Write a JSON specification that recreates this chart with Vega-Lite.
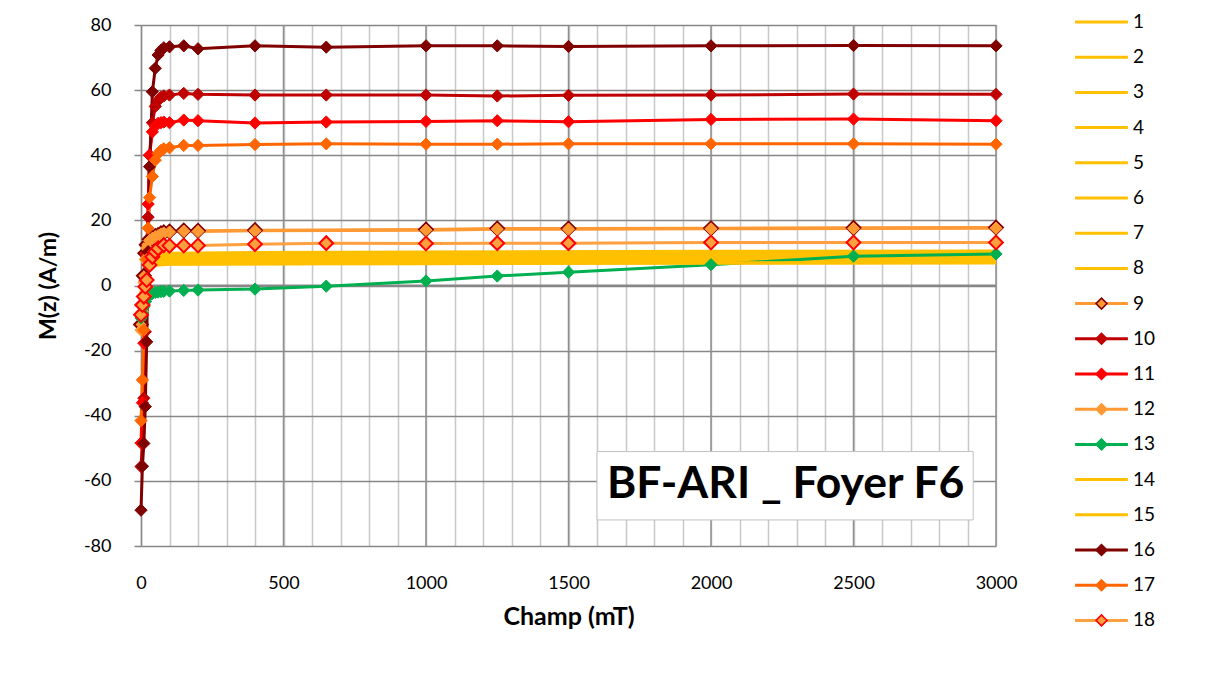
{
  "$schema": "https://vega.github.io/schema/vega-lite/v6.json",
  "width": 855,
  "height": 521,
  "autosize": {"type": "none"},
  "padding": {"left": 141, "top": 25, "right": 216, "bottom": 135},
  "background": "white",
  "config": {
    "view": {"stroke": null},
    "font": "Lato",
    "axis": {"grid": true, "labelOverlap": false, "labelFlush": false, "labelFont": "Lato", "labelFontSize": 18, "labelColor": "#000000",
      "titleFont": "Lato", "titleFontWeight": "bold", "titleColor": "#000000", "gridWidth": 1.5},
    "axisX": {"domain": false, "ticks": false, "labelPadding": 28, "titlePadding": 12, "titleFontSize": 25, "gridColor": "#c8c8c8",
      "values": [0,100,200,300,400,500,600,700,800,900,1000,1100,1200,1300,1400,1500,1600,1700,1800,1900,2000,2100,2200,2300,2400,2500,2600,2700,2800,2900,3000],
      "tickCount": 60, "format": "d", "labelExpr": "datum.value % 500 === 0 ? datum.label : ''"},
    "axisY": {"domain": true, "domainColor": "#878787", "domainWidth": 1.5, "ticks": true, "tickColor": "#878787", "tickSize": 7, "tickWidth": 1.5,
      "labelPadding": 23, "titlePadding": 23, "titleFontSize": 23, "gridColor": "#878787",
      "values": [-80,-60,-40,-20,0,20,40,60,80], "tickCount": 30, "labelExpr": "replace(datum.label, '\u2212', '-')"}
  },
  "data": {"values": [
    {"serie":"1","champ":0,"mz":-3.2},{"serie":"1","champ":10,"mz":1.6},{"serie":"1","champ":20,"mz":5.3},{"serie":"1","champ":30,"mz":7.6},{"serie":"1","champ":40,"mz":8.7},{"serie":"1","champ":50,"mz":9.3},{"serie":"1","champ":60,"mz":9.6},{"serie":"1","champ":80,"mz":9.9},{"serie":"1","champ":100,"mz":9.9},{"serie":"1","champ":200,"mz":10.0},{"serie":"1","champ":400,"mz":10.1},{"serie":"1","champ":1000,"mz":10.3},{"serie":"1","champ":2000,"mz":10.5},{"serie":"1","champ":3000,"mz":10.6},
    {"serie":"2","champ":0,"mz":-3.1},{"serie":"2","champ":10,"mz":1.5},{"serie":"2","champ":20,"mz":5.1},{"serie":"2","champ":30,"mz":7.3},{"serie":"2","champ":40,"mz":8.4},{"serie":"2","champ":50,"mz":9.0},{"serie":"2","champ":60,"mz":9.3},{"serie":"2","champ":80,"mz":9.5},{"serie":"2","champ":100,"mz":9.5},{"serie":"2","champ":200,"mz":9.6},{"serie":"2","champ":400,"mz":9.7},{"serie":"2","champ":1000,"mz":9.9},{"serie":"2","champ":2000,"mz":10.1},{"serie":"2","champ":3000,"mz":10.2},
    {"serie":"3","champ":0,"mz":-2.9},{"serie":"3","champ":10,"mz":1.5},{"serie":"3","champ":20,"mz":4.9},{"serie":"3","champ":30,"mz":7.1},{"serie":"3","champ":40,"mz":8.0},{"serie":"3","champ":50,"mz":8.6},{"serie":"3","champ":60,"mz":8.9},{"serie":"3","champ":80,"mz":9.1},{"serie":"3","champ":100,"mz":9.2},{"serie":"3","champ":200,"mz":9.3},{"serie":"3","champ":400,"mz":9.3},{"serie":"3","champ":1000,"mz":9.5},{"serie":"3","champ":2000,"mz":9.7},{"serie":"3","champ":3000,"mz":9.8},
    {"serie":"4","champ":0,"mz":-2.8},{"serie":"4","champ":10,"mz":1.4},{"serie":"4","champ":20,"mz":4.7},{"serie":"4","champ":30,"mz":6.7},{"serie":"4","champ":40,"mz":7.6},{"serie":"4","champ":50,"mz":8.2},{"serie":"4","champ":60,"mz":8.5},{"serie":"4","champ":80,"mz":8.6},{"serie":"4","champ":100,"mz":8.7},{"serie":"4","champ":200,"mz":8.8},{"serie":"4","champ":400,"mz":8.8},{"serie":"4","champ":1000,"mz":9.0},{"serie":"4","champ":2000,"mz":9.2},{"serie":"4","champ":3000,"mz":9.3},
    {"serie":"5","champ":0,"mz":-2.6},{"serie":"5","champ":10,"mz":1.3},{"serie":"5","champ":20,"mz":4.4},{"serie":"5","champ":30,"mz":6.3},{"serie":"5","champ":40,"mz":7.2},{"serie":"5","champ":50,"mz":7.7},{"serie":"5","champ":60,"mz":8.0},{"serie":"5","champ":80,"mz":8.2},{"serie":"5","champ":100,"mz":8.2},{"serie":"5","champ":200,"mz":8.3},{"serie":"5","champ":400,"mz":8.4},{"serie":"5","champ":1000,"mz":8.5},{"serie":"5","champ":2000,"mz":8.7},{"serie":"5","champ":3000,"mz":8.8},
    {"serie":"6","champ":0,"mz":-2.5},{"serie":"6","champ":10,"mz":1.2},{"serie":"6","champ":20,"mz":4.2},{"serie":"6","champ":30,"mz":6.0},{"serie":"6","champ":40,"mz":6.8},{"serie":"6","champ":50,"mz":7.3},{"serie":"6","champ":60,"mz":7.6},{"serie":"6","champ":80,"mz":7.7},{"serie":"6","champ":100,"mz":7.8},{"serie":"6","champ":200,"mz":7.8},{"serie":"6","champ":400,"mz":7.9},{"serie":"6","champ":1000,"mz":8.1},{"serie":"6","champ":2000,"mz":8.2},{"serie":"6","champ":3000,"mz":8.3},
    {"serie":"7","champ":0,"mz":-2.4},{"serie":"7","champ":10,"mz":1.2},{"serie":"7","champ":20,"mz":4.0},{"serie":"7","champ":30,"mz":5.7},{"serie":"7","champ":40,"mz":6.5},{"serie":"7","champ":50,"mz":7.0},{"serie":"7","champ":60,"mz":7.2},{"serie":"7","champ":80,"mz":7.3},{"serie":"7","champ":100,"mz":7.4},{"serie":"7","champ":200,"mz":7.5},{"serie":"7","champ":400,"mz":7.5},{"serie":"7","champ":1000,"mz":7.7},{"serie":"7","champ":2000,"mz":7.8},{"serie":"7","champ":3000,"mz":7.9},
    {"serie":"8","champ":0,"mz":-2.3},{"serie":"8","champ":10,"mz":1.1},{"serie":"8","champ":20,"mz":3.8},{"serie":"8","champ":30,"mz":5.4},{"serie":"8","champ":40,"mz":6.2},{"serie":"8","champ":50,"mz":6.6},{"serie":"8","champ":60,"mz":6.8},{"serie":"8","champ":80,"mz":7.0},{"serie":"8","champ":100,"mz":7.0},{"serie":"8","champ":200,"mz":7.1},{"serie":"8","champ":400,"mz":7.1},{"serie":"8","champ":1000,"mz":7.3},{"serie":"8","champ":2000,"mz":7.4},{"serie":"8","champ":3000,"mz":7.5},
    {"serie":"9","champ":0,"mz":-12},{"serie":"9","champ":5,"mz":-6},{"serie":"9","champ":10,"mz":3},{"serie":"9","champ":15,"mz":9.9},{"serie":"9","champ":20,"mz":12.5},{"serie":"9","champ":30,"mz":14.2},{"serie":"9","champ":40,"mz":14.8},{"serie":"9","champ":50,"mz":15.2},{"serie":"9","champ":60,"mz":15.5},{"serie":"9","champ":70,"mz":16},{"serie":"9","champ":80,"mz":16.3},{"serie":"9","champ":100,"mz":16.6},{"serie":"9","champ":150,"mz":16.9},{"serie":"9","champ":200,"mz":16.8},{"serie":"9","champ":400,"mz":17},{"serie":"9","champ":1000,"mz":17.2},{"serie":"9","champ":1250,"mz":17.5},{"serie":"9","champ":1500,"mz":17.5},{"serie":"9","champ":2000,"mz":17.6},{"serie":"9","champ":2500,"mz":17.7},{"serie":"9","champ":3000,"mz":17.8},
    {"serie":"10","champ":0,"mz":-55.6},{"serie":"10","champ":5,"mz":-48.4},{"serie":"10","champ":10,"mz":-34.6},{"serie":"10","champ":15,"mz":-14.2},{"serie":"10","champ":20,"mz":9.9},{"serie":"10","champ":25,"mz":21},{"serie":"10","champ":30,"mz":40},{"serie":"10","champ":40,"mz":50},{"serie":"10","champ":50,"mz":55},{"serie":"10","champ":60,"mz":56.8},{"serie":"10","champ":70,"mz":57.8},{"serie":"10","champ":80,"mz":58.2},{"serie":"10","champ":100,"mz":58.5},{"serie":"10","champ":150,"mz":59},{"serie":"10","champ":200,"mz":58.7},{"serie":"10","champ":400,"mz":58.5},{"serie":"10","champ":650,"mz":58.5},{"serie":"10","champ":1000,"mz":58.5},{"serie":"10","champ":1250,"mz":58.2},{"serie":"10","champ":1500,"mz":58.4},{"serie":"10","champ":2000,"mz":58.5},{"serie":"10","champ":2500,"mz":58.8},{"serie":"10","champ":3000,"mz":58.7},
    {"serie":"11","champ":0,"mz":-48.4},{"serie":"11","champ":5,"mz":-36},{"serie":"11","champ":10,"mz":-17.7},{"serie":"11","champ":15,"mz":-5},{"serie":"11","champ":20,"mz":9},{"serie":"11","champ":25,"mz":25},{"serie":"11","champ":30,"mz":40},{"serie":"11","champ":40,"mz":47.2},{"serie":"11","champ":50,"mz":49},{"serie":"11","champ":60,"mz":49.8},{"serie":"11","champ":70,"mz":50},{"serie":"11","champ":80,"mz":50.2},{"serie":"11","champ":100,"mz":50},{"serie":"11","champ":150,"mz":50.8},{"serie":"11","champ":200,"mz":50.6},{"serie":"11","champ":400,"mz":49.9},{"serie":"11","champ":650,"mz":50.2},{"serie":"11","champ":1000,"mz":50.4},{"serie":"11","champ":1250,"mz":50.6},{"serie":"11","champ":1500,"mz":50.3},{"serie":"11","champ":2000,"mz":51},{"serie":"11","champ":2500,"mz":51.1},{"serie":"11","champ":3000,"mz":50.6},
    {"serie":"12","champ":0,"mz":-13.7},{"serie":"12","champ":5,"mz":-8},{"serie":"12","champ":10,"mz":1},{"serie":"12","champ":15,"mz":8},{"serie":"12","champ":20,"mz":11.5},{"serie":"12","champ":30,"mz":13.8},{"serie":"12","champ":40,"mz":14.5},{"serie":"12","champ":50,"mz":15},{"serie":"12","champ":60,"mz":15.3},{"serie":"12","champ":70,"mz":15.8},{"serie":"12","champ":80,"mz":16.1},{"serie":"12","champ":100,"mz":16.4},{"serie":"12","champ":150,"mz":16.7},{"serie":"12","champ":200,"mz":16.6},{"serie":"12","champ":400,"mz":16.8},{"serie":"12","champ":1000,"mz":17},{"serie":"12","champ":1250,"mz":17.3},{"serie":"12","champ":1500,"mz":17.3},{"serie":"12","champ":2000,"mz":17.4},{"serie":"12","champ":2500,"mz":17.5},{"serie":"12","champ":3000,"mz":17.6},
    {"serie":"13","champ":0,"mz":-10},{"serie":"13","champ":5,"mz":-8.5},{"serie":"13","champ":10,"mz":-6.5},{"serie":"13","champ":15,"mz":-5},{"serie":"13","champ":20,"mz":-4},{"serie":"13","champ":30,"mz":-3},{"serie":"13","champ":40,"mz":-2.4},{"serie":"13","champ":50,"mz":-2.1},{"serie":"13","champ":60,"mz":-2},{"serie":"13","champ":70,"mz":-1.9},{"serie":"13","champ":80,"mz":-1.8},{"serie":"13","champ":100,"mz":-1.7},{"serie":"13","champ":150,"mz":-1.5},{"serie":"13","champ":200,"mz":-1.4},{"serie":"13","champ":400,"mz":-1.1},{"serie":"13","champ":650,"mz":-0.2},{"serie":"13","champ":1000,"mz":1.4},{"serie":"13","champ":1250,"mz":2.9},{"serie":"13","champ":1500,"mz":4.1},{"serie":"13","champ":2000,"mz":6.4},{"serie":"13","champ":2500,"mz":9},{"serie":"13","champ":3000,"mz":9.7},
    {"serie":"14","champ":0,"mz":-2.1},{"serie":"14","champ":10,"mz":1.1},{"serie":"14","champ":20,"mz":3.6},{"serie":"14","champ":30,"mz":5.1},{"serie":"14","champ":40,"mz":5.8},{"serie":"14","champ":50,"mz":6.2},{"serie":"14","champ":60,"mz":6.5},{"serie":"14","champ":80,"mz":6.6},{"serie":"14","champ":100,"mz":6.6},{"serie":"14","champ":200,"mz":6.7},{"serie":"14","champ":400,"mz":6.7},{"serie":"14","champ":1000,"mz":6.9},{"serie":"14","champ":2000,"mz":7.0},{"serie":"14","champ":3000,"mz":7.1},
    {"serie":"15","champ":0,"mz":-2.1},{"serie":"15","champ":10,"mz":1.0},{"serie":"15","champ":20,"mz":3.5},{"serie":"15","champ":30,"mz":5.0},{"serie":"15","champ":40,"mz":5.7},{"serie":"15","champ":50,"mz":6.1},{"serie":"15","champ":60,"mz":6.3},{"serie":"15","champ":80,"mz":6.4},{"serie":"15","champ":100,"mz":6.5},{"serie":"15","champ":200,"mz":6.5},{"serie":"15","champ":400,"mz":6.6},{"serie":"15","champ":1000,"mz":6.7},{"serie":"15","champ":2000,"mz":6.8},{"serie":"15","champ":3000,"mz":6.9},
    {"serie":"16","champ":0,"mz":-69},{"serie":"16","champ":5,"mz":-55.5},{"serie":"16","champ":10,"mz":-48.5},{"serie":"16","champ":15,"mz":-37.2},{"serie":"16","champ":20,"mz":-17.3},{"serie":"16","champ":25,"mz":10.4},{"serie":"16","champ":30,"mz":36.5},{"serie":"16","champ":40,"mz":59.5},{"serie":"16","champ":50,"mz":66.7},{"serie":"16","champ":60,"mz":70.8},{"serie":"16","champ":70,"mz":72.2},{"serie":"16","champ":80,"mz":73},{"serie":"16","champ":100,"mz":73.3},{"serie":"16","champ":150,"mz":73.6},{"serie":"16","champ":200,"mz":72.7},{"serie":"16","champ":400,"mz":73.6},{"serie":"16","champ":650,"mz":73.2},{"serie":"16","champ":1000,"mz":73.6},{"serie":"16","champ":1250,"mz":73.6},{"serie":"16","champ":1500,"mz":73.4},{"serie":"16","champ":2000,"mz":73.6},{"serie":"16","champ":2500,"mz":73.7},{"serie":"16","champ":3000,"mz":73.6},
    {"serie":"17","champ":0,"mz":-41.5},{"serie":"17","champ":5,"mz":-29},{"serie":"17","champ":10,"mz":-13.7},{"serie":"17","champ":15,"mz":-3},{"serie":"17","champ":20,"mz":8},{"serie":"17","champ":25,"mz":17.6},{"serie":"17","champ":30,"mz":27},{"serie":"17","champ":40,"mz":33.5},{"serie":"17","champ":50,"mz":38.5},{"serie":"17","champ":60,"mz":40.5},{"serie":"17","champ":70,"mz":41.5},{"serie":"17","champ":80,"mz":42},{"serie":"17","champ":100,"mz":42.3},{"serie":"17","champ":150,"mz":43},{"serie":"17","champ":200,"mz":43},{"serie":"17","champ":400,"mz":43.3},{"serie":"17","champ":650,"mz":43.5},{"serie":"17","champ":1000,"mz":43.4},{"serie":"17","champ":1250,"mz":43.4},{"serie":"17","champ":1500,"mz":43.5},{"serie":"17","champ":2000,"mz":43.5},{"serie":"17","champ":2500,"mz":43.5},{"serie":"17","champ":3000,"mz":43.4},
    {"serie":"18","champ":0,"mz":-9},{"serie":"18","champ":5,"mz":-6},{"serie":"18","champ":10,"mz":-3.4},{"serie":"18","champ":15,"mz":-0.4},{"serie":"18","champ":20,"mz":1.7},{"serie":"18","champ":30,"mz":6.3},{"serie":"18","champ":40,"mz":8.8},{"serie":"18","champ":50,"mz":10.4},{"serie":"18","champ":60,"mz":11.4},{"serie":"18","champ":80,"mz":12.4},{"serie":"18","champ":100,"mz":12.2},{"serie":"18","champ":150,"mz":12.3},{"serie":"18","champ":200,"mz":12.3},{"serie":"18","champ":400,"mz":12.7},{"serie":"18","champ":650,"mz":13},{"serie":"18","champ":1000,"mz":12.9},{"serie":"18","champ":1250,"mz":13},{"serie":"18","champ":1500,"mz":13},{"serie":"18","champ":2000,"mz":13.2},{"serie":"18","champ":2500,"mz":13.2},{"serie":"18","champ":3000,"mz":13.2}
  ]},
  "layer": [
    {
      "data": {"values": [{"champ": 500}, {"champ": 1000}, {"champ": 1500}, {"champ": 2000}, {"champ": 2500}, {"champ": 3000}]},
      "mark": {"type": "rule", "color": "#8f8f8f", "strokeWidth": 1.5},
      "encoding": {
        "x": {"field": "champ", "type": "quantitative", "title": "Champ (mT)", "scale": {"domain": [0, 3000], "nice": false, "zero": false},
          "axis": {"values": [0,100,200,300,400,500,600,700,800,900,1000,1100,1200,1300,1400,1500,1600,1700,1800,1900,2000,2100,2200,2300,2400,2500,2600,2700,2800,2900,3000], "tickCount": 60}}
      }
    },
    {
      "data": {"values": [{}]},
      "mark": {"type": "rule", "color": "#878787", "strokeWidth": 2},
      "encoding": {
        "y": {"datum": 0, "type": "quantitative", "title": "M(z) (A/m)", "scale": {"domain": [-80, 80], "nice": false},
          "axis": {"values": [-80,-60,-40,-20,0,20,40,60,80], "tickCount": 30}}
      }
    },
    {
      "data": {"values": [{"label": "BF-ARI _ Foyer F6"}]},
      "mark": {"type": "rect", "fill": "white", "stroke": "#c0c0c0", "strokeWidth": 1},
      "encoding": {
        "x": {"datum": 1600, "type": "quantitative", "title": "Champ (mT)"},
        "x2": {"datum": 2920},
        "y": {"datum": -51, "type": "quantitative", "title": "M(z) (A/m)"},
        "y2": {"datum": -72}
      }
    },
    {
      "data": {"values": [{"label": "BF-ARI _ Foyer F6"}]},
      "mark": {"type": "text", "font": "Lato", "fontSize": 44.5, "fontWeight": "bold", "color": "#000000", "align": "center", "baseline": "middle"},
      "encoding": {
        "text": {"field": "label"},
        "x": {"datum": 2262, "type": "quantitative", "title": "Champ (mT)"},
        "y": {"datum": -61.4, "type": "quantitative", "title": "M(z) (A/m)"}
      }
    },
    {
      "mark": {"type": "line", "strokeWidth": 3},
      "encoding": {
        "x": {"field": "champ", "type": "quantitative", "title": "Champ (mT)"},
        "y": {"field": "mz", "type": "quantitative", "title": "M(z) (A/m)"},
        "color": {"field": "serie", "type": "nominal",
          "scale": {"domain": ["1","2","3","4","5","6","7","8","9","10","11","12","13","14","15","16","17","18"],
            "range": ["#FFC000","#FFC000","#FFC000","#FFC000","#FFC000","#FFC000","#FFC000","#FFC000","#FF9933","#C00000","#FF0000","#FF9933","#00B050","#FFC000","#FFC000","#800000","#FF6600","#FFA040"]},
          "legend": {"orient": "none", "legendX": 951, "legendY": -12.5, "title": null, "padding": 0, "symbolType": "M-4.8,0H4.8", "symbolSize": 121, "symbolStrokeWidth": 3,
            "labelFontSize": 19, "labelFont": "Lato", "labelColor": "#000000", "labelOffset": 22, "rowPadding": 15.2, "direction": "vertical"}}
      }
    },
    {
      "transform": [{"filter": {"field": "serie", "oneOf": ["9","10","11","12","13","16","17","18"]}}],
      "mark": {"type": "point", "shape": "diamond", "filled": true, "opacity": 1},
      "encoding": {
        "x": {"field": "champ", "type": "quantitative", "title": "Champ (mT)"},
        "y": {"field": "mz", "type": "quantitative", "title": "M(z) (A/m)"},
        "size": {"condition": {"test": "datum.serie === '9' || datum.serie === '18'", "value": 190}, "value": 150},
        "strokeWidth": {"condition": {"test": "datum.serie === '9' || datum.serie === '18'", "value": 2}, "value": 1},
        "fill": {"field": "serie", "type": "nominal",
          "scale": {"domain": ["1","2","3","4","5","6","7","8","9","10","11","12","13","14","15","16","17","18","z"],
            "range": ["transparent","transparent","transparent","transparent","transparent","transparent","transparent","transparent","#FF9933","#C00000","#FF0000","#FF9933","#00B050","transparent","transparent","#800000","#FF6600","#FFA040","transparent"]},
          "legend": {"orient": "none", "legendX": 951, "legendY": -12.5, "title": null, "padding": 0, "symbolType": "diamond", "symbolSize": 121, "symbolStrokeWidth": 1.5,
            "values": ["1","2","3","4","5","6","7","8","9","10","11","12","13","14","15","16","17","18"],
            "labelFontSize": 19, "labelFont": "Lato", "labelColor": "transparent", "labelOffset": 22, "rowPadding": 15.2, "direction": "vertical"}},
        "stroke": {"field": "serie", "type": "nominal",
          "scale": {"domain": ["1","2","3","4","5","6","7","8","9","10","11","12","13","14","15","16","17","18","z"],
            "range": ["transparent","transparent","transparent","transparent","transparent","transparent","transparent","transparent","#800000","#C00000","#FF0000","#FF9933","#00B050","transparent","transparent","#800000","#FF6600","#FF0000","transparent"]},
          "legend": {"orient": "none", "legendX": 951, "legendY": -12.5, "title": null, "padding": 0, "symbolType": "diamond", "symbolSize": 121, "symbolStrokeWidth": 1.5,
            "values": ["1","2","3","4","5","6","7","8","9","10","11","12","13","14","15","16","17","18"],
            "labelFontSize": 19, "labelFont": "Lato", "labelColor": "transparent", "labelOffset": 22, "rowPadding": 15.2, "direction": "vertical"}}
      }
    }
  ]
}
